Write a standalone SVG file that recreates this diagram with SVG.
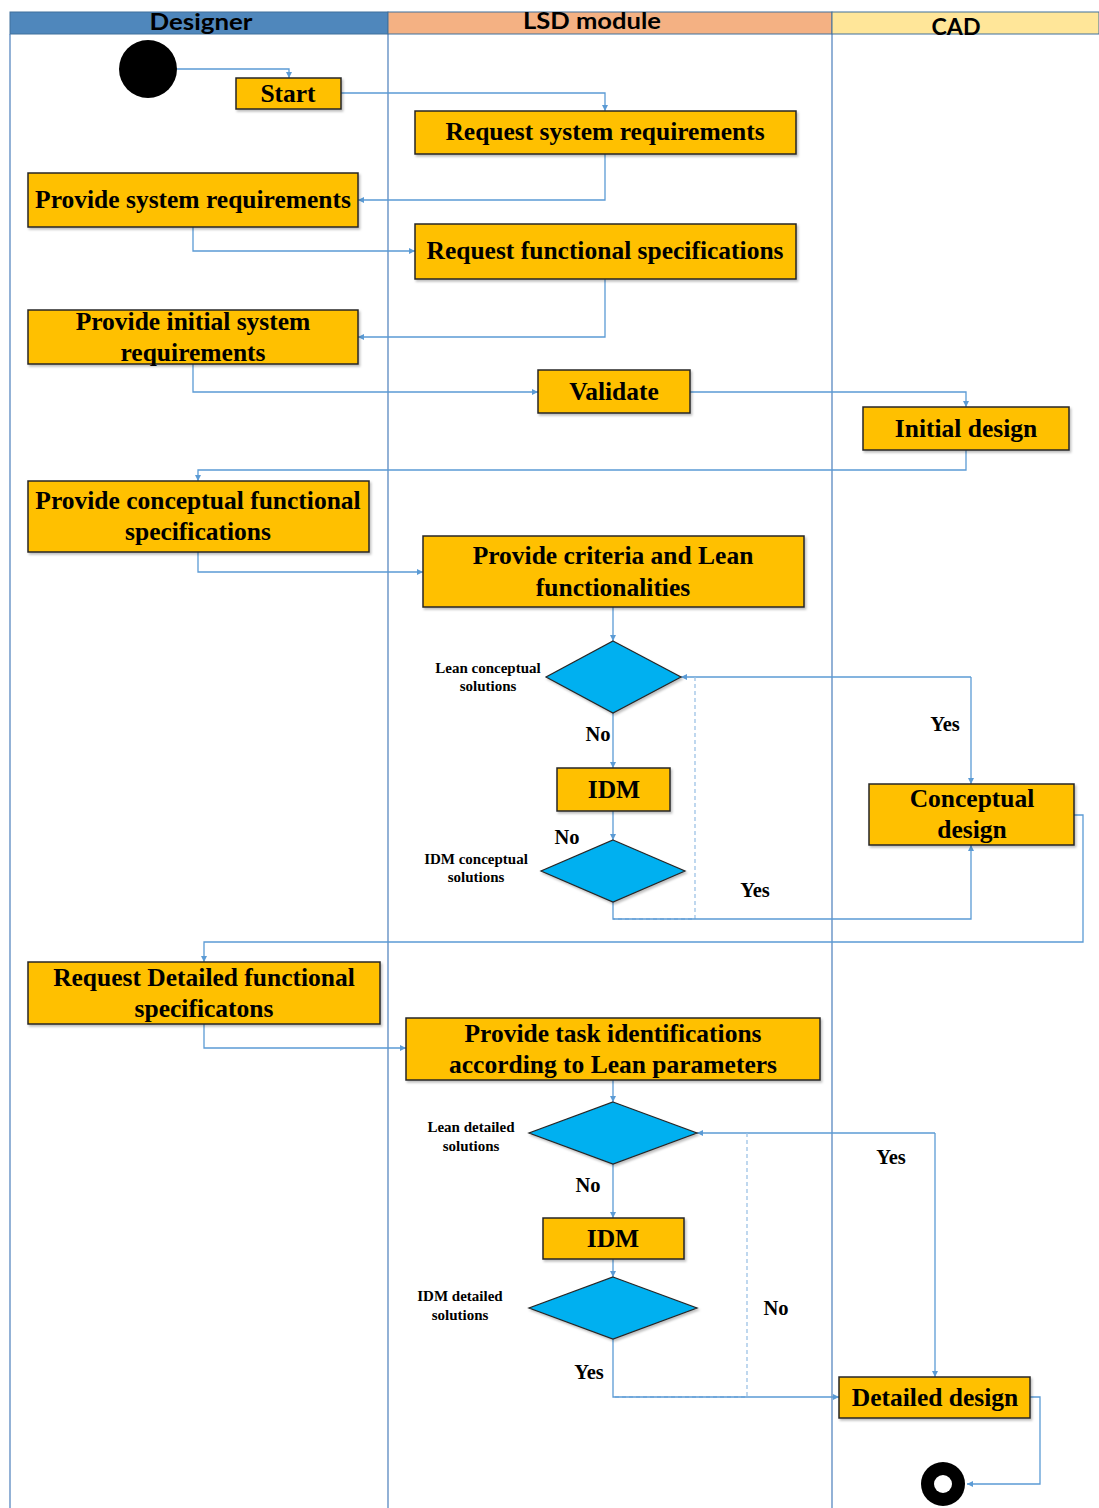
<svg xmlns="http://www.w3.org/2000/svg" width="1099" height="1508" viewBox="0 0 1099 1508">
<style>
.box{fill:#ffc000;stroke:#262626;stroke-width:1.5;filter:url(#sh)}
.dia{fill:#00b0f0;stroke:#262626;stroke-width:1.2;filter:url(#sh)}
.t{font-family:"Liberation Serif","Times New Roman",serif;font-weight:bold;font-size:25.5px;fill:#000;text-anchor:middle}
.s{font-family:"Liberation Serif","Times New Roman",serif;font-weight:bold;font-size:15px;fill:#000;text-anchor:middle}
.yn{font-family:"Liberation Serif","Times New Roman",serif;font-weight:bold;font-size:20.5px;fill:#000;text-anchor:middle}
.h{font-family:Lato,"Liberation Sans",sans-serif;font-weight:bold;font-size:22px;fill:#000;text-anchor:middle}
.c{fill:none;stroke:#5b9bd5;stroke-width:1.3}
.d{fill:none;stroke:#9dc3e6;stroke-width:1.3;stroke-dasharray:4 3}
.lane{stroke:#4a7ebb;stroke-width:1.2}
</style>
<defs>
<filter id="sh" x="-10%" y="-10%" width="130%" height="140%">
<feDropShadow dx="1.5" dy="2" stdDeviation="1.2" flood-color="#000" flood-opacity="0.25"/>
</filter>
<marker id="a" viewBox="0 0 10 10" refX="10" refY="5" markerWidth="6" markerHeight="6" orient="auto" markerUnits="userSpaceOnUse">
<path d="M0,0 L10,5 L0,10 z" fill="#5b9bd5"/>
</marker>
</defs>
<rect width="1099" height="1508" fill="#fff"/>
<g id="lanes">
<rect x="10" y="12" width="378" height="22" fill="#4f87bc" stroke="#41719c" stroke-width="1"/>
<rect x="388" y="12" width="444" height="22" fill="#f4b183" stroke="#41719c" stroke-width="1"/>
<rect x="832" y="12" width="267" height="22" fill="#ffe699" stroke="#41719c" stroke-width="1"/>
<text class="h" x="201" y="30" textLength="103" lengthAdjust="spacingAndGlyphs">Designer</text>
<text class="h" x="592" y="29" textLength="138" lengthAdjust="spacingAndGlyphs">LSD module</text>
<text class="h" x="956" y="35" textLength="49" lengthAdjust="spacingAndGlyphs">CAD</text>
<line class="lane" x1="10" y1="34" x2="10" y2="1508"/>
<line class="lane" x1="388" y1="34" x2="388" y2="1508"/>
<line class="lane" x1="832" y1="34" x2="832" y2="1508"/>
</g>
<g id="connectors">
<path class="c" d="M177,69 H289 V78" marker-end="url(#a)"/>
<path class="c" d="M341,93 H605 V111" marker-end="url(#a)"/>
<path class="c" d="M605,154 V200 H358" marker-end="url(#a)"/>
<path class="c" d="M193,227 V251 H415" marker-end="url(#a)"/>
<path class="c" d="M605,279 V337 H358" marker-end="url(#a)"/>
<path class="c" d="M193,364 V392 H538" marker-end="url(#a)"/>
<path class="c" d="M690,392 H966 V407" marker-end="url(#a)"/>
<path class="c" d="M966,450 V470 H198 V481" marker-end="url(#a)"/>
<path class="c" d="M198,552 V572 H423" marker-end="url(#a)"/>
<path class="c" d="M613,607 V641" marker-end="url(#a)"/>
<path class="c" d="M613,713 V768" marker-end="url(#a)"/>
<path class="c" d="M613,811 V840" marker-end="url(#a)"/>
<path class="c" d="M971,677 H681" marker-end="url(#a)"/>
<path class="c" d="M971,677 V784" marker-end="url(#a)"/>
<path class="d" d="M695,677 V919 H613"/>
<path class="c" d="M613,902 V919 H971 V845" marker-end="url(#a)"/>
<path class="c" d="M1074,815 H1083 V942 H204 V962" marker-end="url(#a)"/>
<path class="c" d="M204,1024 V1048 H406" marker-end="url(#a)"/>
<path class="c" d="M613,1080 V1102" marker-end="url(#a)"/>
<path class="c" d="M935,1133 H697" marker-end="url(#a)"/>
<path class="c" d="M935,1133 V1377" marker-end="url(#a)"/>
<path class="c" d="M613,1164 V1218" marker-end="url(#a)"/>
<path class="c" d="M613,1259 V1277" marker-end="url(#a)"/>
<path class="d" d="M747,1133 V1397 H613"/>
<path class="c" d="M613,1339 V1397 H839" marker-end="url(#a)"/>
<path class="c" d="M1030,1397 H1040 V1484 H967" marker-end="url(#a)"/>
<text class="yn" x="598" y="741">No</text>
<text class="yn" x="567" y="844">No</text>
<text class="yn" x="945" y="731">Yes</text>
<text class="yn" x="755" y="897">Yes</text>
<text class="yn" x="891" y="1164">Yes</text>
<text class="yn" x="588" y="1192">No</text>
<text class="yn" x="776" y="1315">No</text>
<text class="yn" x="589" y="1379">Yes</text>
</g>
<g id="start"><circle cx="148" cy="69" r="29" fill="#000"/></g>
<g id="n-start"><rect class="box" x="236" y="78" width="105" height="31"/><text class="t" x="288" y="102">Start</text></g>
<g id="n-rsr"><rect class="box" x="415" y="111" width="381" height="43"/><text class="t" x="605" y="140">Request system requirements</text></g>
<g id="n-psr"><rect class="box" x="28" y="173" width="330" height="54"/><text class="t" x="193" y="208">Provide system requirements</text></g>
<g id="n-rfs"><rect class="box" x="415" y="224" width="381" height="55"/><text class="t" x="605" y="259">Request functional specifications</text></g>
<g id="n-pisr"><rect class="box" x="28" y="310" width="330" height="54"/><text class="t" x="193" y="330">Provide initial system</text><text class="t" x="193" y="361">requirements</text></g>
<g id="n-validate"><rect class="box" x="538" y="370" width="152" height="43"/><text class="t" x="614" y="400">Validate</text></g>
<g id="n-initial"><rect class="box" x="863" y="407" width="206" height="43"/><text class="t" x="966" y="437">Initial design</text></g>
<g id="n-pcfs"><rect class="box" x="28" y="481" width="341" height="71"/><text class="t" x="198" y="509">Provide conceptual functional</text><text class="t" x="198" y="540">specifications</text></g>
<g id="n-pclf"><rect class="box" x="423" y="536" width="381" height="71"/><text class="t" x="613" y="564">Provide criteria and Lean</text><text class="t" x="613" y="596">functionalities</text></g>
<g id="d-lcs"><polygon class="dia" points="613,641 681,677 613,713 546,677"/><text class="s" x="488" y="673">Lean conceptual</text><text class="s" x="488" y="691">solutions</text></g>
<g id="n-idm1"><rect class="box" x="557" y="768" width="113" height="43"/><text class="t" x="614" y="798">IDM</text></g>
<g id="d-ics"><polygon class="dia" points="613,840 685,871 613,902 541,871"/><text class="s" x="476" y="864">IDM conceptual</text><text class="s" x="476" y="882">solutions</text></g>
<g id="n-cd"><rect class="box" x="869" y="784" width="205" height="61"/><text class="t" x="972" y="807">Conceptual</text><text class="t" x="972" y="838">design</text></g>
<g id="n-rdfs"><rect class="box" x="28" y="962" width="352" height="62"/><text class="t" x="204" y="986">Request Detailed functional</text><text class="t" x="204" y="1017">specificatons</text></g>
<g id="n-pti"><rect class="box" x="406" y="1018" width="414" height="62"/><text class="t" x="613" y="1042">Provide task identifications</text><text class="t" x="613" y="1073">according to Lean parameters</text></g>
<g id="d-lds"><polygon class="dia" points="613,1102 697,1133 613,1164 529,1133"/><text class="s" x="471" y="1132">Lean detailed</text><text class="s" x="471" y="1151">solutions</text></g>
<g id="n-idm2"><rect class="box" x="543" y="1218" width="141" height="41"/><text class="t" x="613" y="1247">IDM</text></g>
<g id="d-ids"><polygon class="dia" points="613,1277 697,1308 613,1339 529,1308"/><text class="s" x="460" y="1301">IDM detailed</text><text class="s" x="460" y="1320">solutions</text></g>
<g id="n-dd"><rect class="box" x="839" y="1377" width="191" height="41"/><text class="t" x="935" y="1406">Detailed design</text></g>
<g id="end"><circle cx="943" cy="1484" r="22" fill="#000"/><ellipse cx="943" cy="1484" rx="9" ry="9" fill="#fff"/></g>
</svg>
